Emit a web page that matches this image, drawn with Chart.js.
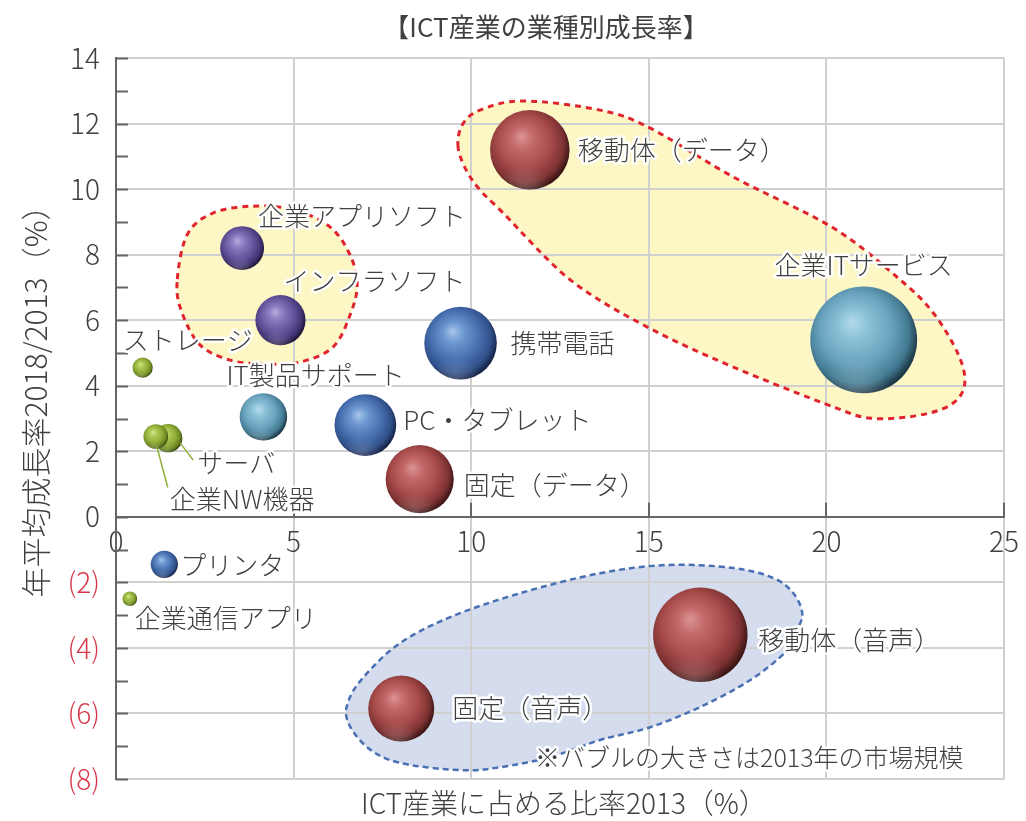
<!DOCTYPE html>
<html lang="ja">
<head>
<meta charset="utf-8">
<title>ICT産業の業種別成長率</title>
<script src="https://cdn.jsdelivr.net/npm/chart.js@4.4.1/dist/chart.umd.min.js"></script>
<style>
  html, body { margin: 0; padding: 0; background: #ffffff; }
  #wrap { width: 1026px; height: 821px; }
</style>
</head>
<body>
<div id="wrap"><canvas id="chart" width="1026" height="821"></canvas></div>
<script>
// ---- data ---------------------------------------------------------------
const categories = [
  '移動体（データ）', '企業ITサービス', '携帯電話', '企業アプリソフト', 'インフラソフト',
  'ストレージ', 'IT製品サポート', 'PC・タブレット', '固定（データ）', 'サーバ',
  '企業NW機器', 'プリンタ', '企業通信アプリ', '固定（音声）', '移動体（音声）'
];
// ICT産業に占める比率 2013 (%)  — bubble area also follows the 2013 market size
const share2013 = [11.65, 21.05, 9.7, 3.55, 4.63, 0.75, 4.15, 7.02, 8.55, 1.47, 1.12, 1.36, 0.39, 8.03, 16.45];
// 年平均成長率 2018/2013 (%)
const growth2018 = [11.2, 5.4, 5.3, 8.2, 6.0, 4.55, 3.05, 2.8, 1.15, 2.4, 2.45, -1.45, -2.5, -5.85, -3.6];

const xTickValues = [0, 5, 10, 15, 20, 25];
const xTickLabels = ['0', '5', '10', '15', '20', '25'];
const yTickValues = [-8, -6, -4, -2, 0, 2, 4, 6, 8, 10, 12, 14];
const yTickLabels = ['(8)', '(6)', '(4)', '(2)', '0', '2', '4', '6', '8', '10', '12', '14'];

// ---- styling ------------------------------------------------------------
const FONT = '"Noto Sans CJK JP", "Noto Sans", sans-serif';
const TEXT = '#404040';
const NEG_TEXT = '#d8394c';
const GRID = '#d0d0d0';
const AXIS = '#666666';
const RADIUS_PER_SQRT_SHARE = 11.65;

// sphere shading: highlight, light, body, shade, rim
const PALETTES = {
  red:    ['#dc9494', '#c46a6a', '#a84b4b', '#7e3232', '#3e1616'],
  blue:   ['#a6c6ec', '#6e98d0', '#476fb0', '#2f4f88', '#16244a'],
  teal:   ['#b4dcea', '#8cc2d8', '#68a2bc', '#437a92', '#1e3a48'],
  purple: ['#b8acdc', '#8a7cc0', '#65549c', '#433576', '#1f1839'],
  green:  ['#d4ea92', '#b0ca58', '#92ae38', '#6c8622', '#3c4c10']
};
const sphereColor = {
  '移動体（データ）': 'red', '固定（データ）': 'red', '固定（音声）': 'red', '移動体（音声）': 'red',
  '企業ITサービス': 'teal', 'IT製品サポート': 'teal',
  '携帯電話': 'blue', 'PC・タブレット': 'blue', 'プリンタ': 'blue',
  '企業アプリソフト': 'purple', 'インフラソフト': 'purple',
  'ストレージ': 'green', 'サーバ': 'green', '企業NW機器': 'green', '企業通信アプリ': 'green'
};

// label placement relative to each sphere centre (px)
const labelLayout = {
  '移動体（データ）': { dx: 48, dy: 0 },
  '企業ITサービス':   { dx: 0, dy: -75, align: 'center' },
  '携帯電話':         { dx: 50, dy: 0 },
  '企業アプリソフト': { dx: 16, dy: -32 },
  'インフラソフト':   { dx: 3, dy: -39 },
  'ストレージ':       { dx: -20, dy: -28 },
  'IT製品サポート':   { dx: -37, dy: -42 },
  'PC・タブレット':   { dx: 38, dy: -5 },
  '固定（データ）':   { dx: 44, dy: 6 },
  'サーバ':           { dx: 29, dy: 25, leader: [12, 5, 25, 22] },
  '企業NW機器':       { dx: 14, dy: 63, leader: [1, 10, 12, 51] },
  'プリンタ':         { dx: 16, dy: 1 },
  '企業通信アプリ':   { dx: 5, dy: 19 },
  '固定（音声）':     { dx: 51, dy: 0 },
  '移動体（音声）':   { dx: 58, dy: 5 }
};

// grouping outlines (closed smooth curves through points in data units)
const groupOutlines = [
  { fill: '#fdf7c5', stroke: '#e0242e', width: 3, dash: [6, 5], pts: [
    [9.63, 11.28], [9.75, 11.96], [10.25, 12.41], [11.46, 12.69], [13.63, 12.41], [15.04, 11.86],
    [17.38, 10.37], [20.2, 8.81], [22.08, 7.23], [23.01, 6.22], [23.72, 4.94], [23.89, 4.02],
    [23.49, 3.41], [22.51, 3.08], [21.24, 3.01], [20.2, 3.35], [17.38, 4.57], [14.96, 5.79],
    [12.79, 7.23], [10.9, 9.27], [10.25, 9.97], [9.86, 10.58] ] },
  { fill: '#fdf7c5', stroke: '#e0242e', width: 3, dash: [6, 5], pts: [
    [1.72, 7.16], [1.86, 6.22], [2.37, 5.24], [3.21, 4.78], [4.2, 4.66], [5.18, 4.72], [6.11, 5.18],
    [6.59, 6.16], [6.79, 7.07], [6.59, 7.99], [6.03, 8.84], [5.04, 9.36], [3.86, 9.48], [2.73, 9.27],
    [2.0, 8.6] ] },
  { fill: '#d5dcee', stroke: '#4870b2', width: 2.5, dash: [6, 4], pts: [
    [6.51, -6.2], [6.59, -5.5], [7.07, -4.77], [8.0, -3.85], [9.41, -3.06], [11.38, -2.33],
    [13.63, -1.72], [15.52, -1.47], [17.38, -1.56], [18.51, -1.87], [19.07, -2.33], [19.32, -2.94],
    [19.18, -3.45], [18.9, -4.07], [17.86, -4.98], [16.45, -5.8], [15.04, -6.42], [13.63, -6.81],
    [12.23, -7.33], [10.82, -7.64], [9.69, -7.73], [8.0, -7.51], [7.07, -7.03] ] }
];

// ---- helpers ------------------------------------------------------------
function bubbleRadius(share) { return RADIUS_PER_SQRT_SHARE * Math.sqrt(share); }

function sphereFill(ctx) {
  const name = categories[ctx.dataIndex];
  const pal = PALETTES[sphereColor[name]] || PALETTES.blue;
  const chart = ctx.chart;
  const xs = chart.scales.x, ys = chart.scales.y;
  if (ctx.type !== 'data' || !xs || !ys || !ctx.raw) return pal[2];
  const cx = xs.getPixelForValue(ctx.raw.x);
  const cy = ys.getPixelForValue(ctx.raw.y);
  const r = ctx.raw.r;
  if (!isFinite(cx) || !isFinite(cy)) return pal[2];
  const g = chart.ctx.createRadialGradient(cx - 0.22 * r, cy - 0.34 * r, 0, cx - 0.1 * r, cy - 0.12 * r, r * 1.12);
  g.addColorStop(0, pal[0]);
  g.addColorStop(0.25, pal[1]);
  g.addColorStop(0.6, pal[2]);
  g.addColorStop(0.86, pal[3]);
  g.addColorStop(1, pal[4]);
  return g;
}

function smoothClosedPath(c, p) {
  const n = p.length;
  c.beginPath();
  c.moveTo(p[0][0], p[0][1]);
  for (let i = 0; i < n; i++) {
    const p0 = p[(i - 1 + n) % n], p1 = p[i], p2 = p[(i + 1) % n], p3 = p[(i + 2) % n];
    const c1x = p1[0] + (p2[0] - p0[0]) / 6, c1y = p1[1] + (p2[1] - p0[1]) / 6;
    const c2x = p2[0] - (p3[0] - p1[0]) / 6, c2y = p2[1] - (p3[1] - p1[1]) / 6;
    c.bezierCurveTo(c1x, c1y, c2x, c2y, p2[0], p2[1]);
  }
  c.closePath();
}

function outlinePixels(chart, o) {
  const xs = chart.scales.x, ys = chart.scales.y;
  return o.pts.map(([x, y]) => [xs.getPixelForValue(x), ys.getPixelForValue(y)]);
}

function haloText(c, text, x, y) {
  c.lineJoin = 'round';
  c.strokeStyle = 'rgba(255,255,255,0.95)';
  c.lineWidth = 5;
  c.strokeText(text, x, y);
  c.fillStyle = TEXT;
  c.fillText(text, x, y);
}

// ---- plugins ------------------------------------------------------------
const groupBackdrop = {
  id: 'groupBackdrop',
  beforeDraw(chart) {
    const c = chart.ctx;
    const a = chart.chartArea;
    c.save();
    c.fillStyle = '#ffffff';
    c.fillRect(0, 0, chart.width, chart.height);
    c.beginPath(); c.rect(a.left, a.top, a.right - a.left, a.bottom - a.top); c.clip();
    groupOutlines.forEach(o => {
      smoothClosedPath(c, outlinePixels(chart, o));
      c.fillStyle = o.fill;
      c.fill();
    });
    c.restore();
  },
  beforeDatasetsDraw(chart) {
    const c = chart.ctx;
    c.save();
    groupOutlines.forEach(o => {
      smoothClosedPath(c, outlinePixels(chart, o));
      c.setLineDash(o.dash);
      c.lineWidth = o.width;
      c.strokeStyle = o.stroke;
      c.stroke();
    });
    c.setLineDash([]);
    // inward tick marks on both axes
    const xs = chart.scales.x, ys = chart.scales.y;
    const a = chart.chartArea;
    const y0 = ys.getPixelForValue(0);
    c.strokeStyle = AXIS;
    c.lineWidth = 2;
    c.beginPath();
    for (let v = ys.min; v <= ys.max; v++) {
      const py = Math.round(ys.getPixelForValue(v)) + 0.5;
      c.moveTo(a.left, py); c.lineTo(a.left + 12, py);
    }
    xTickValues.forEach(v => {
      if (v === 0) return;
      const px = Math.round(xs.getPixelForValue(v));
      c.moveTo(px, y0); c.lineTo(px, y0 - 14);
    });
    c.stroke();
    c.restore();
  },
  afterDatasetsDraw(chart) {
    const c = chart.ctx;
    const meta = chart.getDatasetMeta(0);
    c.save();
    // soft reflected light along the lower rim of each sphere
    meta.data.forEach((el) => {
      const r = el.options.radius;
      c.save();
      c.beginPath(); c.arc(el.x, el.y, r, 0, Math.PI * 2); c.clip();
      const g = c.createRadialGradient(el.x - 0.15 * r, el.y + 1.05 * r, 0, el.x - 0.15 * r, el.y + 1.05 * r, 0.7 * r);
      g.addColorStop(0, 'rgba(255,255,255,0.22)');
      g.addColorStop(1, 'rgba(255,255,255,0)');
      c.fillStyle = g;
      c.fillRect(el.x - r, el.y - r, 2 * r, 2 * r);
      c.restore();
    });
    c.font = '300 26px ' + FONT;
    c.textBaseline = 'middle';
    meta.data.forEach((el, i) => {
      const name = categories[i];
      const L = labelLayout[name];
      if (!L) return;
      if (L.leader) {
        c.strokeStyle = '#8fae3c';
        c.lineWidth = 1.5;
        c.beginPath();
        c.moveTo(el.x + L.leader[0], el.y + L.leader[1]);
        c.lineTo(el.x + L.leader[2], el.y + L.leader[3]);
        c.stroke();
      }
      c.textAlign = L.align || 'left';
      haloText(c, name, el.x + L.dx, el.y + L.dy);
    });
    c.restore();
  },
  afterDraw(chart) {
    const c = chart.ctx;
    c.save();
    c.fillStyle = TEXT;
    c.textBaseline = 'middle';
    // chart title
    c.textAlign = 'center';
    c.font = '26px ' + FONT;
    c.fillText('【ICT産業の業種別成長率】', 546, 27);
    // x axis title
    c.font = '300 28px ' + FONT;
    c.fillText('ICT産業に占める比率2013（%）', 564, 803);
    // y axis title
    c.save();
    c.translate(36, 394);
    c.rotate(-Math.PI / 2);
    c.font = '300 30px ' + FONT;
    c.fillText('年平均成長率2018/2013（%）', 0, 0);
    c.restore();
    // note
    c.textAlign = 'left';
    c.font = '300 25px ' + FONT;
    haloText(c, '※バブルの大きさは2013年の市場規模', 535, 757);
    c.restore();
  }
};

// ---- chart --------------------------------------------------------------
new Chart(document.getElementById('chart'), {
  type: 'bubble',
  data: {
    datasets: [{
      label: 'ICT産業',
      data: categories.map((name, i) => ({ x: share2013[i], y: growth2018[i], r: bubbleRadius(share2013[i]) })),
      backgroundColor: sphereFill,
      borderWidth: 0,
      hoverBorderWidth: 0
    }]
  },
  options: {
    responsive: false,
    animation: false,
    events: [],
    devicePixelRatio: 1,
    layout: { autoPadding: false, padding: { left: 0, top: 58, right: 22, bottom: 42 } },
    plugins: { legend: { display: false }, title: { display: false }, tooltip: { enabled: false } },
    scales: {
      x: {
        type: 'linear',
        position: { y: 0 },
        min: 0, max: 25,
        afterBuildTicks(scale) { scale.ticks = xTickValues.map(v => ({ value: v })); },
        afterFit(scale) { scale.paddingLeft = 0; scale.paddingRight = 0; },
        ticks: {
          callback: (v) => xTickLabels[xTickValues.indexOf(v)] ?? '',
          color: TEXT,
          padding: 8,
          maxRotation: 0,
          font: { family: FONT, size: 28, weight: '300' }
        },
        grid: {
          color: (ctx) => (ctx.tick && ctx.tick.value === 0) ? 'rgba(0,0,0,0)' : GRID,
          lineWidth: 2,
          drawTicks: false
        },
        border: { display: true, color: AXIS, width: 2 }
      },
      y: {
        type: 'linear',
        position: 'left',
        min: -8, max: 14,
        afterBuildTicks(scale) {
          const t = [];
          for (let v = -8; v <= 14; v++) t.push({ value: v });
          scale.ticks = t;
        },
        afterFit(scale) { scale.width = 116; scale.paddingTop = 0; scale.paddingBottom = 0; },
        ticks: {
          callback: (v) => { const k = yTickValues.indexOf(v); return k >= 0 ? yTickLabels[k] : ''; },
          color: (ctx) => (ctx.tick && ctx.tick.value < 0) ? NEG_TEXT : TEXT,
          padding: 16,
          autoSkip: false,
          font: { family: FONT, size: 28, weight: '300' }
        },
        grid: {
          color: (ctx) => (ctx.tick && ctx.tick.value % 2 === 0 && ctx.tick.value !== 0) ? GRID : 'rgba(0,0,0,0)',
          lineWidth: 2,
          drawTicks: false
        },
        border: { display: true, color: AXIS, width: 2 }
      }
    }
  },
  plugins: [groupBackdrop]
});
</script>
</body>
</html>
